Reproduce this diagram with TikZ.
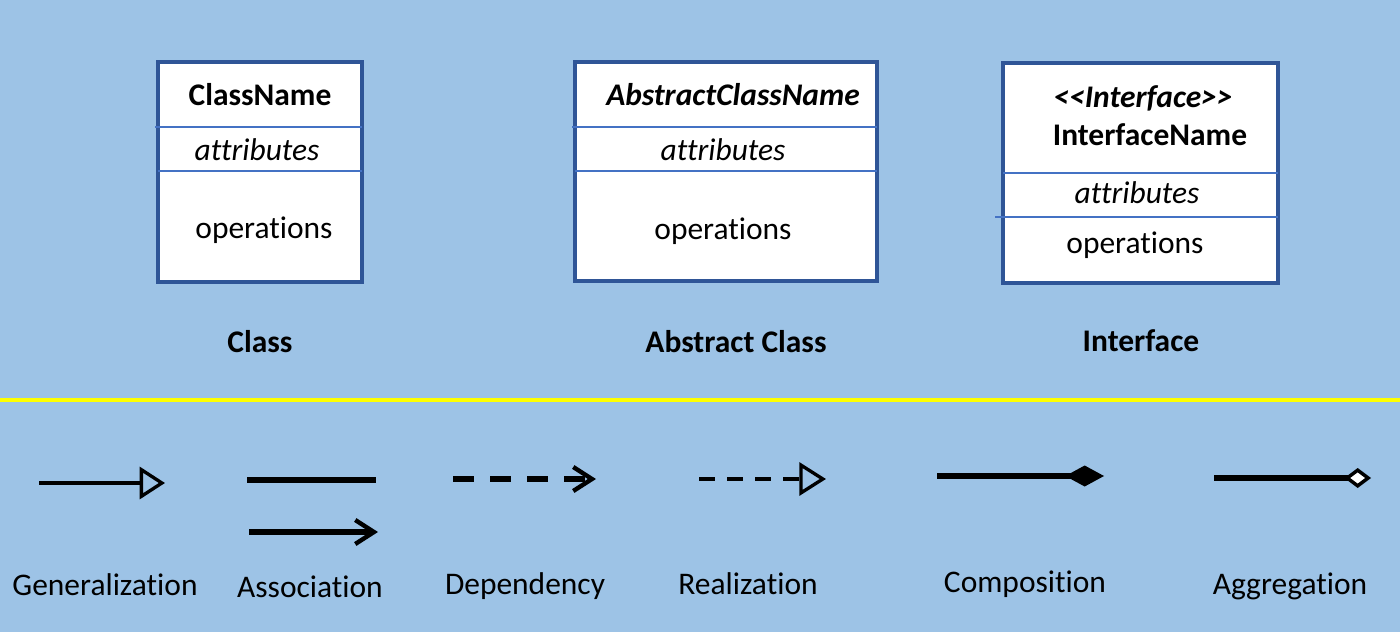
\documentclass[tikz,border=0pt]{standalone}
\usepackage{fontspec}
\setmainfont{Carlito}[Ligatures={TeX,NoCommon}]
\usetikzlibrary{arrows.meta}
\definecolor{bg}{RGB}{157,195,230}
\definecolor{boxborder}{RGB}{47,85,151}
\definecolor{divider}{RGB}{68,114,196}
\definecolor{sep}{RGB}{255,255,0}
\begin{document}
\begin{tikzpicture}[x=0.75pt,y=-0.75pt,
  txt/.style={font=\fontsize{23.6}{28}\selectfont, inner sep=0pt, text=black},
  umlbox/.style={draw=boxborder, fill=white, line width=2.8pt},
  divline/.style={draw=divider, line width=0.8pt},
  conn/.style={draw=black},
]
\fill[bg] (0,0) rectangle (1400,632);
\useasboundingbox (0,0) rectangle (1400,632);

% ---- Class ----
\draw[umlbox] (158,62) rectangle (362,282);
\draw[divline] (155,127) -- (362,127);
\draw[divline] (158,171) -- (362,171);
\node[txt, font=\fontsize{23.6}{28}\selectfont\bfseries] (cname) at (260,95) {ClassName};
\node[txt, font=\fontsize{23.6}{28}\selectfont\itshape] (cattr) at (257,150) {attributes};
\node[txt] (cops) at (264,230) {operations};
\node[txt, font=\fontsize{23.6}{28}\selectfont\bfseries] (clabel) at (260,342) {Class};

% ---- Abstract Class ----
\draw[umlbox] (575,62) rectangle (877,281);
\draw[divline] (572,127) -- (877,127);
\draw[divline] (575,171) -- (877,171);
\node[txt, font=\fontsize{23.6}{28}\selectfont\bfseries\itshape] (aname) at (733,95) {AbstractClassName};
\node[txt, font=\fontsize{23.6}{28}\selectfont\itshape] (aattr) at (723,150) {attributes};
\node[txt] (aops) at (723,231) {operations};
\node[txt, font=\fontsize{23.6}{28}\selectfont\bfseries] (alabel) at (736,342) {Abstract Class};

% ---- Interface ----
\draw[umlbox] (1003,63) rectangle (1278,283);
\draw[divline] (1003,173) -- (1278,173);
\draw[divline] (995,217) -- (1278,217);
\node[txt, font=\fontsize{23.6}{28}\selectfont\bfseries\itshape] (istereo) at (1143,98) {<\kern0pt<Interface>\kern0pt>};
\node[txt, font=\fontsize{23.6}{28}\selectfont\bfseries] (iname) at (1150,135) {InterfaceName};
\node[txt, font=\fontsize{23.6}{28}\selectfont\itshape] (iattr) at (1137,193) {attributes};
\node[txt] (iops) at (1135,245) {operations};
\node[txt, font=\fontsize{23.6}{28}\selectfont\bfseries] (ilabel) at (1141,341) {Interface};

% ---- separator ----
\draw[sep, line width=3pt] (0,400) -- (1400,400);

% ---- connectors ----
\coordinate (g1) at (39,483);   \coordinate (g2) at (165,483);
\coordinate (as1) at (247,480); \coordinate (as2) at (376,480);
\coordinate (ar1) at (249,532); \coordinate (ar2) at (378,532);
\coordinate (d1) at (453,479);  \coordinate (d2) at (596,479);
\coordinate (r1) at (699,479);  \coordinate (r2) at (826,479);
\coordinate (c1) at (937,476);  \coordinate (c2) at (1104,476);
\coordinate (ag1) at (1214,478);\coordinate (ag2) at (1371,478);

\draw[conn, line width=2.6pt, -{Triangle[open, length=19pt, width=24pt, line width=2.5pt]}] (g1) -- (g2);
\draw[conn, line width=3.9pt] (as1) -- (as2);
\draw[conn, line width=3.9pt, -{Straight Barb[length=14pt, width=18pt, line width=3.3pt]}] (ar1) -- (ar2);
\draw[conn, line width=4.2pt, dash pattern=on 15.75pt off 12pt, -{Straight Barb[length=14pt, width=18pt, line width=3.3pt]}] (d1) -- (d2);
\draw[conn, line width=3pt, dash pattern=on 12pt off 9pt, -{Triangle[open, length=20pt, width=24.75pt, line width=2.5pt]}] (r1) -- (r2);
\draw[conn, line width=4.2pt, -{Diamond[length=29pt, width=15.75pt]}] (c1) -- (c2);
\draw[conn, line width=3.9pt, -{Diamond[fill=white, length=20pt, width=15pt, line width=2.6pt]}] (ag1) -- (ag2);

% ---- labels ----
\node[txt] (lg) at (105,585) {Generalization};
\node[txt] (las) at (310,587) {Association};
\node[txt] (ld) at (525,586) {Dependency};
\node[txt] (lr) at (748,584) {Realization};
\node[txt] (lc) at (1025,584) {Composition};
\node[txt] (lag) at (1290,586) {Aggregation};
\end{tikzpicture}
\end{document}
